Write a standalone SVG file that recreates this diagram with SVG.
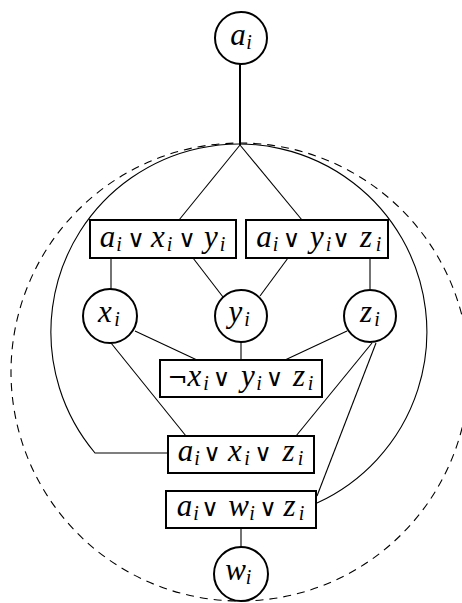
<svg xmlns="http://www.w3.org/2000/svg" width="462" height="603" viewBox="0 0 462 603">
<style>
.nd{fill:#fff;stroke:#000;stroke-width:2}
.c{fill:none;stroke:#000;stroke-width:1.1}
</style>
<rect width="462" height="603" fill="#fff"/>
<g id="connectors">
<circle cx="240" cy="372" r="229" fill="none" stroke="#000" stroke-width="1.1" stroke-dasharray="8 6"/>
<path class="c" d="M168,453 L95,453 A188,188 0 1 1 317,503"/>
<line x1="240" y1="63" x2="240" y2="145" stroke="#000" stroke-width="2"/>
<line class="c" x1="240" y1="145" x2="179" y2="220"/>
<line class="c" x1="240" y1="145" x2="302" y2="220"/>
<line class="c" x1="111" y1="258" x2="111" y2="289"/>
<line class="c" x1="193" y1="258" x2="223" y2="297"/>
<line class="c" x1="288" y1="258" x2="260" y2="296"/>
<line class="c" x1="370" y1="258" x2="370" y2="289"/>
<line class="c" x1="135" y1="331" x2="197" y2="360"/>
<line class="c" x1="241" y1="342" x2="241" y2="360"/>
<line class="c" x1="347" y1="331" x2="285" y2="360"/>
<line class="c" x1="111" y1="343" x2="186" y2="436"/>
<line class="c" x1="372" y1="343" x2="296" y2="436"/>
<line class="c" x1="376" y1="343" x2="317" y2="496"/>
<line class="c" x1="241" y1="528" x2="241" y2="547"/>
</g>
<g id="labels" font-family="Liberation Serif" font-style="italic" font-size="31" text-anchor="middle" fill="#000">
<g id="a_i">
<circle class="nd" cx="241" cy="38" r="26"/>
<text><tspan x="238" y="45">a</tspan><tspan font-size="20" x="249" y="49">i</tspan></text>
</g>
<g id="c1">
<rect class="nd" x="90" y="220" width="146" height="38"/>
<text><tspan x="107.5" y="247">a</tspan><tspan font-size="20" x="119" y="251">i</tspan><tspan font-family="DejaVu Sans" font-style="normal" font-size="24" x="136" y="247">∨</tspan><tspan x="158" y="247">x</tspan><tspan font-size="20" x="169.5" y="251">i</tspan><tspan font-family="DejaVu Sans" font-style="normal" font-size="24" x="187" y="247">∨</tspan><tspan x="211" y="247">y</tspan><tspan font-size="20" x="222.5" y="251">i</tspan></text>
</g>
<g id="c2">
<rect class="nd" x="246" y="220" width="142" height="38"/>
<text><tspan x="264" y="247">a</tspan><tspan font-size="20" x="275.5" y="251">i</tspan><tspan font-family="DejaVu Sans" font-style="normal" font-size="24" x="291.5" y="247">∨</tspan><tspan x="317" y="247">y</tspan><tspan font-size="20" x="328.5" y="251">i</tspan><tspan font-family="DejaVu Sans" font-style="normal" font-size="24" x="341" y="247">∨</tspan><tspan x="366" y="247">z</tspan><tspan font-size="20" x="378.5" y="251">i</tspan></text>
</g>
<g id="x_i">
<circle class="nd" cx="110" cy="316" r="27"/>
<text><tspan x="105" y="322">x</tspan><tspan font-size="20" x="117" y="326">i</tspan></text>
</g>
<g id="y_i">
<circle class="nd" cx="241" cy="316" r="26"/>
<text><tspan x="235.5" y="322">y</tspan><tspan font-size="20" x="247" y="326">i</tspan></text>
</g>
<g id="z_i">
<circle class="nd" cx="370" cy="316" r="26"/>
<text><tspan x="366" y="322">z</tspan><tspan font-size="20" x="377" y="326">i</tspan></text>
</g>
<g id="c3">
<rect class="nd" x="160" y="360" width="162" height="37"/>
<text><tspan font-family="DejaVu Sans" font-style="normal" font-size="24" x="177.5" y="386">¬</tspan><tspan x="194.5" y="386">x</tspan><tspan font-size="20" x="206" y="390">i</tspan><tspan font-family="DejaVu Sans" font-style="normal" font-size="24" x="221.5" y="386">∨</tspan><tspan x="248" y="386">y</tspan><tspan font-size="20" x="259" y="390">i</tspan><tspan font-family="DejaVu Sans" font-style="normal" font-size="24" x="274.5" y="386">∨</tspan><tspan x="299" y="386">z</tspan><tspan font-size="20" x="310.5" y="390">i</tspan></text>
</g>
<g id="c4">
<rect class="nd" x="168" y="436" width="146" height="37"/>
<text><tspan x="185.5" y="461">a</tspan><tspan font-size="20" x="197" y="465">i</tspan><tspan font-family="DejaVu Sans" font-style="normal" font-size="24" x="212" y="461">∨</tspan><tspan x="235" y="461">x</tspan><tspan font-size="20" x="247" y="465">i</tspan><tspan font-family="DejaVu Sans" font-style="normal" font-size="24" x="263" y="461">∨</tspan><tspan x="288.5" y="461">z</tspan><tspan font-size="20" x="300.5" y="465">i</tspan></text>
</g>
<g id="c5">
<rect class="nd" x="166" y="491" width="150" height="37"/>
<text><tspan x="184.5" y="516">a</tspan><tspan font-size="20" x="196" y="520">i</tspan><tspan font-family="DejaVu Sans" font-style="normal" font-size="24" x="210" y="516">∨</tspan><tspan x="238.5" y="516">w</tspan><tspan font-size="20" x="252" y="520">i</tspan><tspan font-family="DejaVu Sans" font-style="normal" font-size="24" x="268" y="516">∨</tspan><tspan x="289.5" y="516">z</tspan><tspan font-size="20" x="301.5" y="520">i</tspan></text>
</g>
<g id="w_i">
<circle class="nd" cx="241" cy="574" r="27"/>
<text><tspan x="235.5" y="580">w</tspan><tspan font-size="20" x="248.5" y="584">i</tspan></text>
</g>
</g>
</svg>
